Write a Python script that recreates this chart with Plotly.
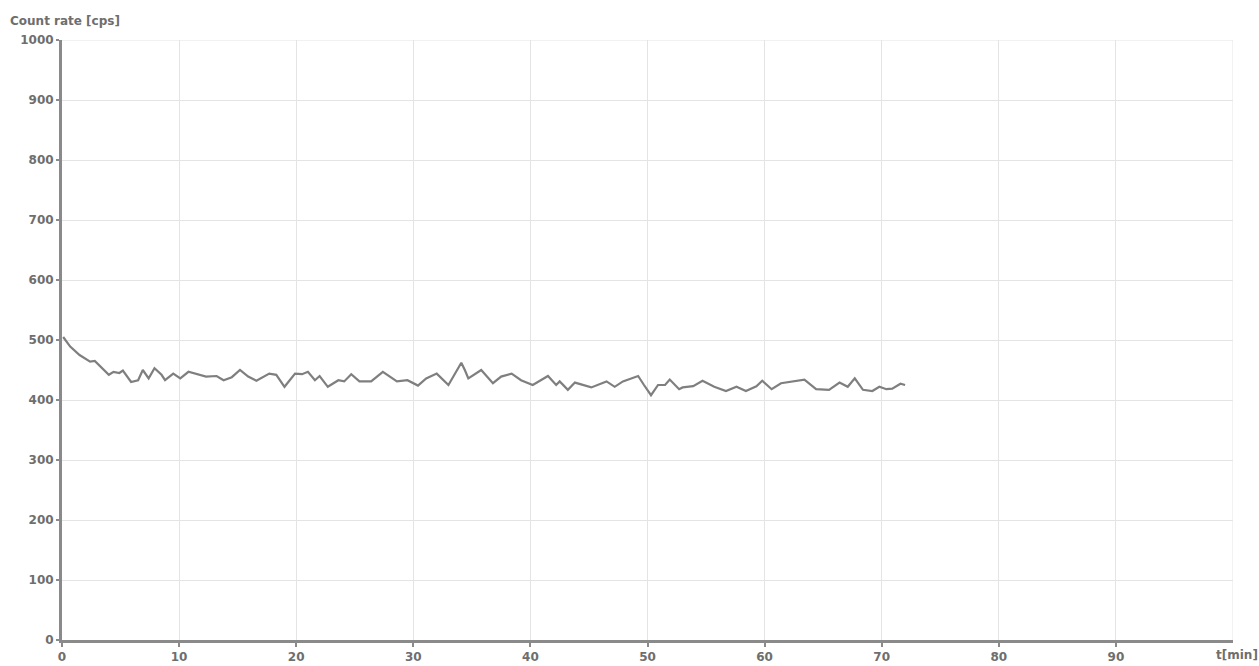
import plotly.graph_objects as go

t_min = [0.1, 0.7, 1.5, 2.4, 2.8, 3.4, 4.0, 4.4, 4.9, 5.2, 5.9, 6.5, 6.9, 7.4, 7.9, 8.5, 8.8, 9.5,
         10.1, 10.8, 11.5, 12.3, 13.2, 13.8, 14.5, 15.2, 15.9, 16.6, 17.7, 18.3, 19.0, 19.9,
         20.5, 21.0, 21.6, 22.0, 22.7, 23.6, 24.1, 24.7, 25.4, 26.4, 27.4, 28.6, 29.5,
         30.4, 31.1, 32.0, 33.0, 33.5, 34.1, 34.4, 34.7, 35.8, 36.8, 37.5, 38.4, 39.2,
         40.2, 41.5, 42.2, 42.5, 43.2, 43.8, 45.2, 46.5, 47.2, 47.9, 49.2, 49.7,
         50.3, 50.9, 51.5, 51.9, 52.7, 53.0, 53.9, 54.7, 55.7, 56.7, 57.6, 58.4, 59.3, 59.8,
         60.6, 61.4, 62.4, 63.4, 64.4, 65.5, 66.4, 67.1, 67.7, 68.4, 69.2, 69.8,
         70.4, 70.9, 71.6, 72.0]
count_rate = [505, 489, 475, 464, 465, 453, 442, 447, 445, 449, 430, 433, 450, 436, 453, 442, 433, 444,
              436, 447, 443, 439, 440, 433, 438, 450, 439, 432, 444, 442, 422, 444,
              443, 447, 433, 440, 422, 433, 431, 443, 431, 431, 447, 431, 433,
              424, 436, 444, 425, 442, 462, 450, 436, 450, 428, 439, 444, 433,
              425, 440, 425, 431, 417, 429, 421, 431, 422, 431, 440, 425,
              408, 425, 425, 434, 418, 421, 423, 432, 422, 415, 422, 415, 423, 432,
              418, 428, 431, 434, 418, 417, 429, 422, 436, 417, 415, 422,
              418, 419, 427, 425]

x_ticks = [0, 10, 20, 30, 40, 50, 60, 70, 80, 90]
y_ticks = [0, 100, 200, 300, 400, 500, 600, 700, 800, 900, 1000]

FONT = "DejaVu Sans, Arial, sans-serif"
tick_font = dict(family=FONT, size=12, color="#6e6e6e", weight="bold")

fig = go.Figure()
fig.add_trace(go.Scatter(
    x=t_min, y=count_rate, mode="lines",
    line=dict(color="#7f7f7f", width=2.2),
    showlegend=False,
))

fig.update_layout(
    width=1259, height=666,
    margin=dict(l=62, r=26, t=40, b=26, autoexpand=False),
    paper_bgcolor="white", plot_bgcolor="white",
    xaxis=dict(
        range=[0, 100], tickvals=x_ticks, ticktext=[str(v) for v in x_ticks],
        showgrid=True, gridcolor="#e4e4e4", gridwidth=1,
        showline=True, linecolor="#8a8a8a", linewidth=3,
        ticks="outside", ticklen=4, tickwidth=2, tickcolor="#8a8a8a",
        tickfont=tick_font, zeroline=False, automargin=False,
    ),
    yaxis=dict(
        range=[0, 1000], tickvals=y_ticks, ticktext=[str(v) for v in y_ticks],
        showgrid=True, gridcolor="#e4e4e4", gridwidth=1,
        showline=True, linecolor="#8a8a8a", linewidth=3,
        ticks="outside", ticklen=3, tickwidth=2, tickcolor="#8a8a8a",
        tickfont=tick_font, zeroline=False, ticklabelstandoff=0, automargin=False,
    ),
    shapes=[
        dict(type="line", xref="x", yref="y", x0=100, x1=100, y0=0, y1=1000,
             line=dict(color="#e4e4e4", width=1)),
        dict(type="line", xref="x", yref="y", x0=0, x1=100, y0=1000, y1=1000,
             line=dict(color="#e4e4e4", width=1)),
    ],
    annotations=[
        dict(text="Count rate [cps]", xref="paper", yref="paper", x=-0.046, y=1.0,
             xanchor="left", yanchor="bottom", yshift=10, showarrow=False,
             font=dict(family=FONT, size=12, color="#6e6e6e", weight="bold")),
        dict(text="t[min]", xref="paper", yref="paper", x=1.0, y=0.0,
             xanchor="center", yanchor="top", yshift=-6, xshift=4, showarrow=False,
             font=dict(family=FONT, size=12, color="#6e6e6e", weight="bold")),
    ],
)

fig.write_html(
    "out.html",
    config={"displayModeBar": False},
    post_script="document.body.style.margin='0';document.body.style.overflow='hidden';",
)
